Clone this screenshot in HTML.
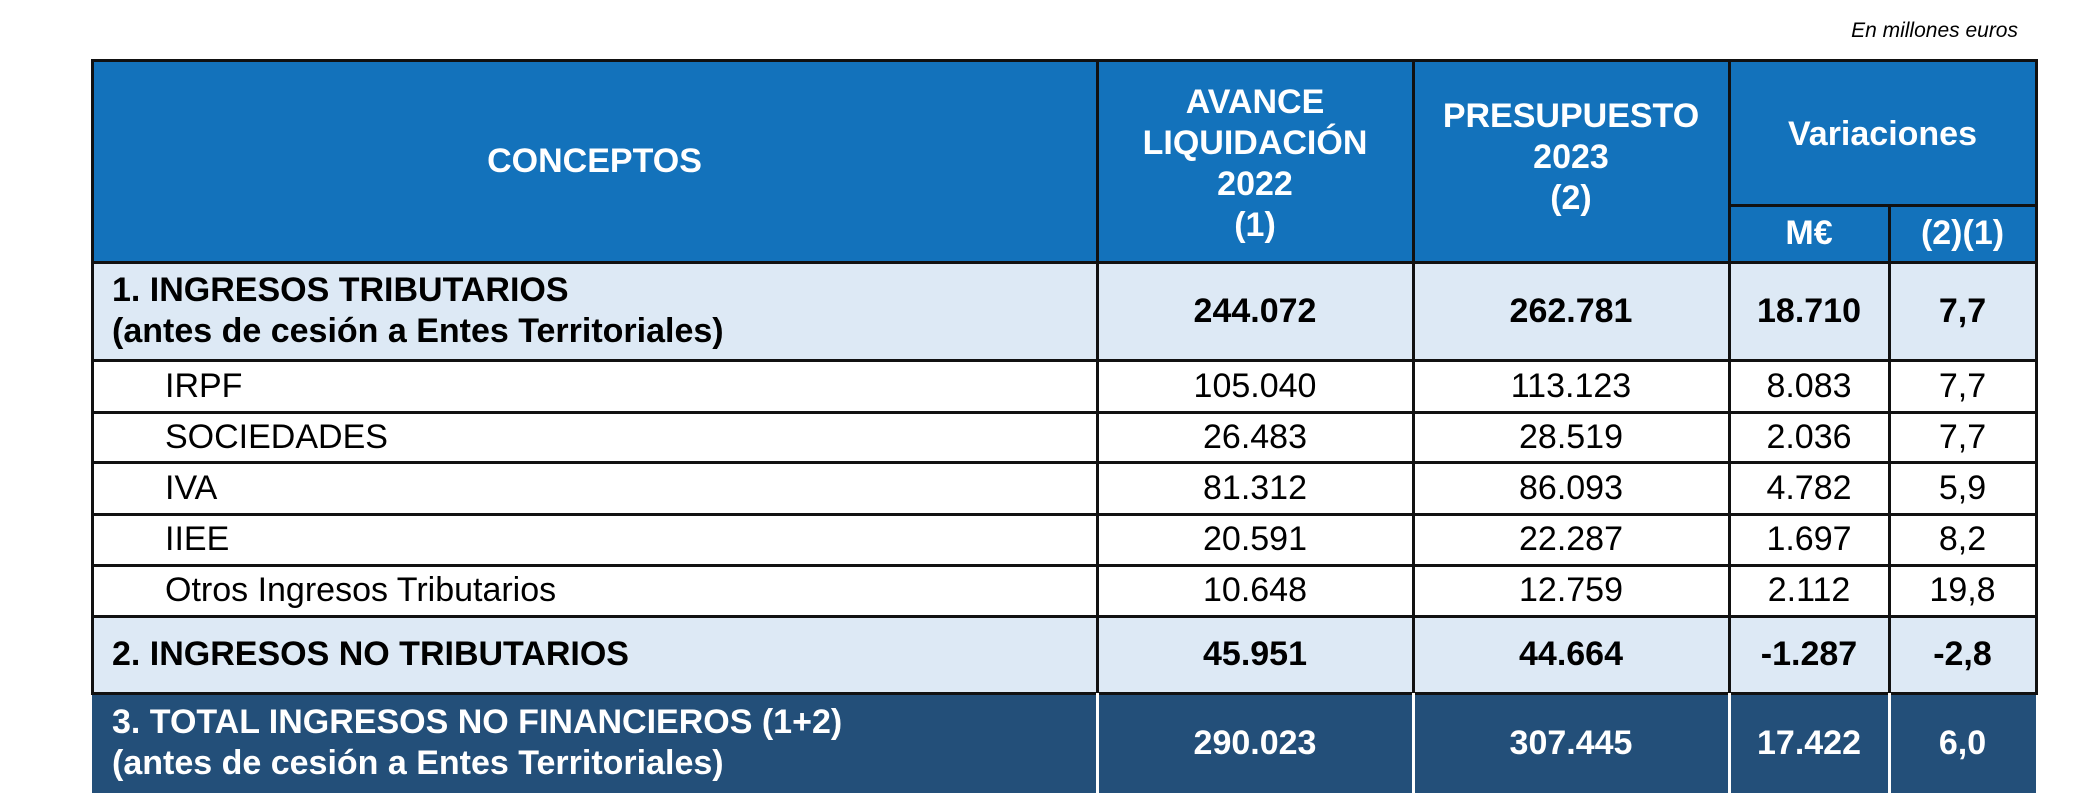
<!DOCTYPE html>
<html><head><meta charset="utf-8"><style>
body{margin:0;width:2098px;height:804px;background:#fff;position:relative;overflow:hidden;font-family:"Liberation Sans",Arial,sans-serif;}
.c{position:absolute;display:flex;align-items:center;justify-content:center;text-align:center;font-size:34px;line-height:41px;box-sizing:border-box;white-space:nowrap;}
.l{justify-content:flex-start;text-align:left;}
.b{font-weight:bold;}
.w{color:#fff;}
.hl{position:absolute;background:#111;}
</style></head><body>
<div style="position:absolute;right:80px;top:19px;font-size:21px;font-style:italic;">En millones euros</div>
<div id="t"></div>
<script>
const cols=[92,1097,1413,1729,1889,2036];
const rowsY=[360,412,462,514,565,616,693,793];
const labels=["1. INGRESOS TRIBUTARIOS<br>(antes de cesión a Entes Territoriales)","IRPF","SOCIEDADES","IVA","IIEE","Otros Ingresos Tributarios","2. INGRESOS NO TRIBUTARIOS","3. TOTAL INGRESOS NO FINANCIEROS (1+2)<br>(antes de cesión a Entes Territoriales)"];
const avance=["244.072","105.040","26.483","81.312","20.591","10.648","45.951","290.023"];
const presupuesto=["262.781","113.123","28.519","86.093","22.287","12.759","44.664","307.445"];
const varME=["18.710","8.083","2.036","4.782","1.697","2.112","-1.287","17.422"];
const varPct=["7,7","7,7","7,7","5,9","8,2","19,8","-2,8","6,0"];
const kind=["sub","n","n","n","n","n","sub","tot"];
const t=document.getElementById('t');
function cell(x,y,w,h,html,cls,bg,name){
  const d=document.createElement('div');
  d.className='c '+cls;
  d.style.cssText=`left:${x}px;top:${y}px;width:${w}px;height:${h}px;background:${bg};`;
  d.innerHTML=html;
  
  
  t.appendChild(d);return d;
}
const hb='#1372bb';
cell(92,60,1005,202,'CONCEPTOS','b w',hb,'header-conceptos');
cell(1097,60,316,202,'AVANCE<br>LIQUIDACIÓN<br>2022<br>(1)','b w',hb,'header-avance-2022').style.paddingTop='6px';
cell(1413,60,316,202,'PRESUPUESTO<br>2023<br>(2)','b w',hb,'header-presupuesto-2023').style.paddingBottom='8px';
cell(1729,60,307,145,'Variaciones','b w',hb,'header-variaciones').style.paddingTop='4px';
cell(1729,205,160,57,'M€','b w',hb,'header-var-me');
cell(1889,205,147,57,'(2)(1)','b w',hb,'header-var-pct');
let y=262;
for(let i=0;i<labels.length;i++){
  const h=rowsY[i]-y;
  const k=kind[i];
  const bg=k==='sub'?'#dde9f5':k==='tot'?'#234f79':'#fff';
  const cls=(k==='n'?'':'b ')+(k==='tot'?'w':'');
  const lab=cell(92,y,1005,h,labels[i],'l '+cls,bg,'row-label');
  lab.style.paddingLeft=(k==='n'?'73px':'20px');
  cell(1097,y,316,h,avance[i],cls,bg,'value-avance');
  cell(1413,y,316,h,presupuesto[i],cls,bg,'value-presupuesto');
  cell(1729,y,160,h,varME[i],cls,bg,'value-var-me');
  cell(1889,y,147,h,varPct[i],cls,bg,'value-var-pct');
  y=rowsY[i];
}
function line(x,y,w,h,c){const d=document.createElement('div');d.className='hl';d.style.cssText=`left:${x}px;top:${y}px;width:${w}px;height:${h}px;background:${c||'#111'}`;


t.appendChild(d);}
line(91,59,1947,3);
line(1729,204,308,3);
[262,360,412,462,514,565,616,693].forEach(v=>line(91,v-1,1947,3));
cols.forEach((x,j)=>{
  const top=(j===4)?205:60;
  line(x-1,top,3,693-top);
});
[1097,1413,1729,1889].forEach(x=>line(x-1,693,3,100,'#fff'));
</script>
</body></html>
